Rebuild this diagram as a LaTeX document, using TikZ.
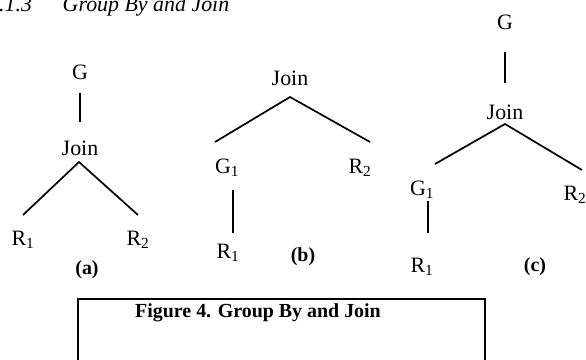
\documentclass[tikz,border=0pt]{standalone}
\usepackage{fontspec}
\setmainfont{Liberation Serif}
\usetikzlibrary{calc}
\begin{document}
\begin{tikzpicture}[x=1bp,y=-1bp,
  lbl/.style={inner sep=0pt, font=\fontsize{22}{22}\selectfont},
  sublbl/.style={inner sep=0pt, font=\fontsize{20}{20}\selectfont\bfseries},
  edge/.style={line width=1.7bp}]
\useasboundingbox (0,0) rectangle (586,359);
\clip (0,0) rectangle (586,359);
\node[anchor=base west, inner sep=0pt, font=\fontsize{22}{22}\selectfont\itshape] (head) at (-12,11) {4.1.3\hspace{1.4em}Group By and Join};
% tree (a)
\node[lbl] (Ga) at (80,72) {G};
\node[lbl] (Ja) at (80,148) {Join};
\node[lbl] (R1a) at (23,240) {R\textsubscript{1}};
\node[lbl] (R2a) at (138,240) {R\textsubscript{2}};
\node[sublbl] (capa) at (87,270) {(a)};
\draw[edge] ($(Ga)+(0,21)$) -- ($(Ja)+(0,-26)$);
\draw[edge] ($(R1a)+(0,-25)$) -- ($(Ja)+(-1,14)$) -- ($(R2a)+(0,-25)$);
% tree (b)
\node[lbl] (Jb) at (290,78) {Join};
\node[lbl] (G1b) at (227,168) {G\textsubscript{1}};
\node[lbl] (R2b) at (360,168) {R\textsubscript{2}};
\node[lbl] (R1b) at (228,253) {R\textsubscript{1}};
\node[sublbl] (capb) at (303,257) {(b)};
\draw[edge] ($(G1b)+(-12,-26)$) -- ($(Jb)+(0,19)$) -- ($(R2b)+(10,-26)$);
\draw[edge] ($(G1b)+(6,22)$) -- ($(R1b)+(5,-20)$);
% tree (c)
\node[lbl] (Gc) at (505,22) {G};
\node[lbl] (Jc) at (505,112) {Join};
\node[lbl] (G1c) at (422,190) {G\textsubscript{1}};
\node[lbl] (R2c) at (575,195) {R\textsubscript{2}};
\node[lbl] (R1c) at (422,267) {R\textsubscript{1}};
\node[sublbl] (capc) at (535,267) {(c)};
\draw[edge] ($(Gc)+(0,30)$) -- ($(Jc)+(0,-29)$);
\draw[edge] ($(G1c)+(13,-26)$) -- ($(Jc)+(0,12)$) -- ($(R2c)+(7,-25)$);
\draw[edge] ($(G1c)+(6,11)$) -- ($(R1c)+(6,-34)$);
% caption box
\draw[edge] (78,365) -- (78,299) -- (485,299) -- (485,365);
\node[anchor=west, inner sep=0pt, font=\fontsize{20}{20}\selectfont\bfseries] (fig) at (135,313) {Figure 4. Group By and Join};
\end{tikzpicture}
\end{document}
